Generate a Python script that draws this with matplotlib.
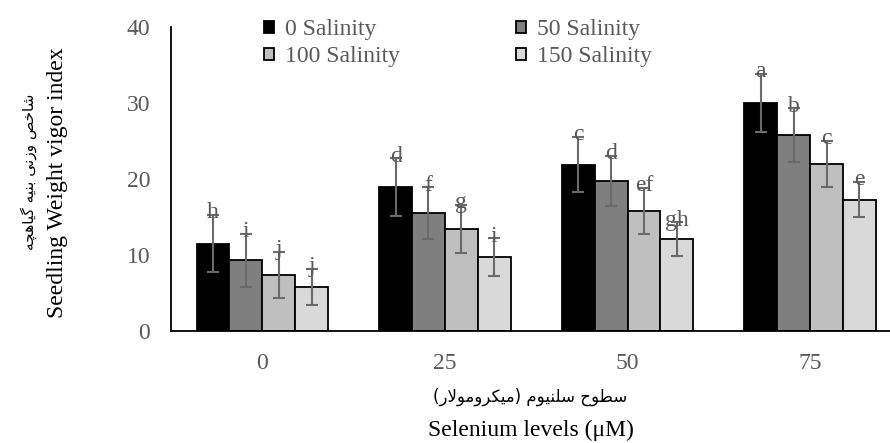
import matplotlib
matplotlib.use('Agg')
import matplotlib.pyplot as plt
import numpy as np

# data
selenium = ['0', '25', '50', '75']
series_names = ['0 Salinity', '50 Salinity', '100 Salinity', '150 Salinity']
vals_0 = [11.5, 18.9, 21.9, 30.0]
vals_50 = [9.3, 15.5, 19.7, 25.8]
vals_100 = [7.4, 13.4, 15.8, 22.0]
vals_150 = [5.8, 9.7, 12.1, 17.3]
err_0 = [3.8, 3.8, 3.6, 3.8]
err_50 = [3.5, 3.4, 3.3, 3.5]
err_100 = [3.0, 3.2, 3.0, 3.0]
err_150 = [2.4, 2.5, 2.2, 2.3]
let_0 = ['h', 'd', 'c', 'a']
let_50 = ['i', 'f', 'd', 'b']
let_100 = ['j', 'g', 'ef', 'c']
let_150 = ['j', 'i', 'gh', 'e']

ylabel_fa = 'شاخص وزنی بنیه گیاهچه'
xlabel_fa = 'سطوح سلنیوم (میکرومولار)'

colors = ['#000000', '#7f7f7f', '#bfbfbf', '#d9d9d9']

# tiny persian shaper (matplotlib 3.10 has no complex text layout)
forms = {
    'ش': (0xFEB5, 0xFEB6, 0xFEB7, 0xFEB8), 'ا': (0xFE8D, 0xFE8E),
    'خ': (0xFEA5, 0xFEA6, 0xFEA7, 0xFEA8), 'ص': (0xFEB9, 0xFEBA, 0xFEBB, 0xFEBC),
    'و': (0xFEED, 0xFEEE), 'ز': (0xFEAF, 0xFEB0), 'ر': (0xFEAD, 0xFEAE),
    'ن': (0xFEE5, 0xFEE6, 0xFEE7, 0xFEE8), 'ی': (0xFBFC, 0xFBFD, 0xFBFE, 0xFBFF),
    'ب': (0xFE8F, 0xFE90, 0xFE91, 0xFE92), 'ه': (0xFEE9, 0xFEEA, 0xFEEB, 0xFEEC),
    'گ': (0xFB92, 0xFB93, 0xFB94, 0xFB95), 'چ': (0xFB7A, 0xFB7B, 0xFB7C, 0xFB7D),
    'س': (0xFEB1, 0xFEB2, 0xFEB3, 0xFEB4), 'ط': (0xFEC1, 0xFEC2, 0xFEC3, 0xFEC4),
    'ح': (0xFEA1, 0xFEA2, 0xFEA3, 0xFEA4), 'ل': (0xFEDD, 0xFEDE, 0xFEDF, 0xFEE0),
    'م': (0xFEE1, 0xFEE2, 0xFEE3, 0xFEE4), 'ک': (0xFB8E, 0xFB8F, 0xFB90, 0xFB91),
}


def shape(s):
    res = []
    i = 0
    while i < len(s):
        c = s[i]
        if c not in forms:
            res.append(c)
            i += 1
            continue
        prev = s[i - 1] if i > 0 else ''
        nxt = s[i + 1] if i + 1 < len(s) else ''
        jp = prev in forms and len(forms[prev]) == 4
        if c == 'ل' and nxt == 'ا':
            res.append(chr(0xFEFC if jp else 0xFEFB))
            i += 2
            continue
        f = forms[c]
        jn = len(f) == 4 and nxt in forms
        if len(f) == 2:
            idx = 1 if jp else 0
        elif jp:
            idx = 3 if jn else 1
        else:
            idx = 2 if jn else 0
        res.append(chr(f[idx]))
        i += 1
    out = ''.join(reversed(res))
    return out.translate(str.maketrans('()', ')('))


plt.rcParams['font.family'] = ['Liberation Serif', 'DejaVu Sans']
fig = plt.figure(figsize=(8.9, 4.43), dpi=100)
ax = fig.add_axes([0.1921, 0.2528, 0.8208, 0.6862])

vals = [vals_0, vals_50, vals_100, vals_150]
errs = [err_0, err_50, err_100, err_150]
lets = [let_0, let_50, let_100, let_150]
x = np.arange(len(selenium))
w = 0.18
handles = []
for k in range(4):
    pos = x + (k - 1.5) * w
    b = ax.bar(pos, vals[k], w, color=colors[k], edgecolor='black', linewidth=1.3,
               label=series_names[k], zorder=2)
    handles.append(b)
    ax.errorbar(pos, vals[k], yerr=errs[k], fmt='none', ecolor='#6a6a6a',
                elinewidth=1.5, capsize=4.5, capthick=1.5, zorder=3)
    for p, v, e, t in zip(pos, vals[k], errs[k], lets[k]):
        ax.text(p, v + e + 0.3, t, ha='center', va='center', fontsize=17,
                color='#595959', zorder=4)

ax.set_xlim(-0.5, 3.5)
ax.set_ylim(0, 40)
ax.set_yticks([0, 10, 20, 30, 40])
ax.set_xticks(x)
ax.set_xticklabels(selenium)
ax.tick_params(axis='both', length=0, labelsize=17, labelcolor='#595959')
ax.tick_params(axis='y', pad=15)
ax.tick_params(axis='x', pad=16)
for s in ['top', 'right']:
    ax.spines[s].set_visible(False)
ax.spines['left'].set_linewidth(1.3)
ax.spines['bottom'].set_linewidth(1.3)

order = [0, 2, 1, 3]
leg = ax.legend([handles[i] for i in order], [series_names[i] for i in order],
                ncol=2, frameon=False, fontsize=17, handlelength=0.45,
                handleheight=0.45, handletextpad=0.45, columnspacing=4.9,
                labelspacing=0.25, loc='upper left', borderpad=0,
                borderaxespad=0, bbox_to_anchor=(0.127, 1.025))
for t in leg.get_texts():
    t.set_color('#595959')

fig.text(0.065, 0.587, 'Seedling Weight vigor index', rotation=90,
         ha='center', va='center', fontsize=17)
fig.text(0.032, 0.612, shape(ylabel_fa), rotation=90, ha='center',
         va='center', fontsize=11, family=['DejaVu Sans'])
fig.text(0.596, 0.104, shape(xlabel_fa), ha='center', va='center',
         fontsize=12, family=['DejaVu Sans'])
fig.text(0.596, 0.029, 'Selenium levels (μM)', ha='center', va='center',
         fontsize=17)

fig.savefig('out.png', dpi=100)
